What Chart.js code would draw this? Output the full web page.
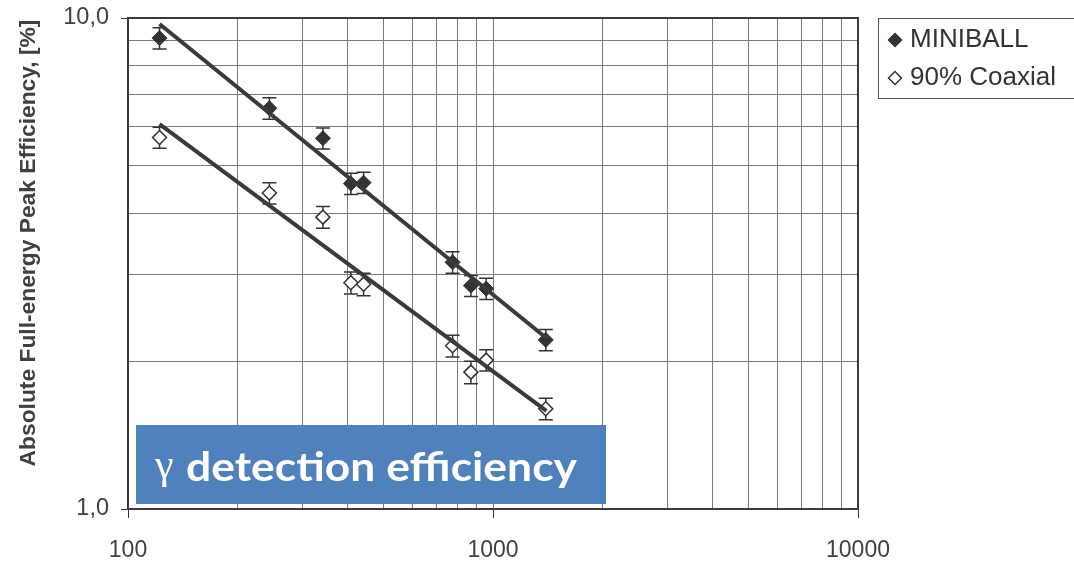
<!DOCTYPE html>
<html>
<head>
<meta charset="utf-8">
<script src="https://cdn.jsdelivr.net/npm/chart.js@4.4.1/dist/chart.umd.min.js"></script>
<style>
  body { margin: 0; background: #fff; }
  #wrap { width: 1074px; height: 562px; }
</style>
</head>
<body>
<div id="wrap"><canvas id="myChart" width="1074" height="562"></canvas></div>
<script>
// gamma energies [keV]
const energies = [122, 244, 342, 408, 442, 775, 870, 958, 1395];
const miniball = [9.1, 6.55, 5.69, 4.6, 4.62, 3.18, 2.85, 2.81, 2.21];
const miniballErr = [0.45, 0.33, 0.28, 0.23, 0.23, 0.16, 0.14, 0.14, 0.11];
const coaxial = [5.71, 4.4, 3.93, 2.89, 2.87, 2.15, 1.9, 2.01, 1.6];
const coaxialErr = [0.28, 0.22, 0.2, 0.15, 0.15, 0.11, 0.1, 0.1, 0.08];

// fitted power-law lines, end points
const fitX = [122, 1400];
const miniballFit = [9.72, 2.23];
const coaxialFit = [6.08, 1.585];

const xGrid = [100, 200, 300, 400, 500, 600, 700, 800, 900, 1000, 2000, 3000, 4000, 5000, 6000, 7000, 8000, 9000, 10000];
const yGrid = [1, 2, 3, 4, 5, 6, 7, 8, 9, 10];
const xLabelValues = [100, 1000, 10000];
const xLabels = ["100", "1000", "10000"];
const yLabelValues = [1, 10];
const yLabels = ["1,0", "10,0"];

const yTitle = "Absolute Full-energy Peak Efficiency, [%]";
const bannerText = "detection efficiency";

const INK = "#333333";
const FONT = "'Liberation Sans', Arial, sans-serif";

function diamond(ctx, x, y, r, fill, stroke, lw) {
  ctx.beginPath();
  ctx.moveTo(x, y - r);
  ctx.lineTo(x + r, y);
  ctx.lineTo(x, y + r);
  ctx.lineTo(x - r, y);
  ctx.closePath();
  ctx.fillStyle = fill;
  ctx.fill();
  ctx.lineWidth = lw;
  ctx.strokeStyle = stroke;
  ctx.stroke();
}

const errorBars = {
  id: "errorBars",
  beforeDatasetsDraw(chart) {
    const { ctx, scales } = chart;
    ctx.save();
    ctx.strokeStyle = INK;
    ctx.lineWidth = 1.5;
    chart.data.datasets.forEach((ds) => {
      if (!ds.errors) return;
      ds.data.forEach((p, i) => {
        const x = scales.x.getPixelForValue(p.x);
        const yTop = scales.y.getPixelForValue(p.y + ds.errors[i]);
        const yBot = scales.y.getPixelForValue(p.y - ds.errors[i]);
        ctx.beginPath();
        ctx.moveTo(x, yTop);
        ctx.lineTo(x, yBot);
        ctx.moveTo(x - 7, yTop);
        ctx.lineTo(x + 7, yTop);
        ctx.moveTo(x - 7, yBot);
        ctx.lineTo(x + 7, yBot);
        ctx.stroke();
      });
    });
    ctx.restore();
  },
};

const extras = {
  id: "extras",
  afterDraw(chart) {
    const { ctx, chartArea } = chart;
    ctx.save();

    // frame
    ctx.strokeStyle = "#3a3a3a";
    ctx.lineWidth = 2;
    ctx.strokeRect(chartArea.left, chartArea.top, chartArea.right - chartArea.left, chartArea.bottom - chartArea.top);

    // y title
    ctx.save();
    ctx.translate(29, 243);
    ctx.rotate(-Math.PI / 2);
    ctx.font = "bold 22.8px " + FONT;
    ctx.fillStyle = "#404040";
    ctx.textAlign = "center";
    ctx.textBaseline = "middle";
    ctx.fillText(yTitle, 0, 0);
    ctx.restore();

    // legend
    ctx.strokeStyle = "#555";
    ctx.lineWidth = 1;
    ctx.strokeRect(878.5, 18.5, 220, 80);
    ctx.font = "26px " + FONT;
    ctx.textBaseline = "middle";
    ctx.textAlign = "left";
    let ly = 40;
    chart.data.datasets.forEach((ds) => {
      if (!ds.errors) return;
      diamond(ctx, 895, ly, 6.5, ds.pointBackgroundColor, ds.pointBorderColor, 1.5);
      ctx.fillStyle = INK;
      ctx.fillText(ds.label, 910, ly);
      ly += 38;
    });

    // banner
    ctx.fillStyle = "#4f81bd";
    ctx.fillRect(136, 425, 470, 79);
    ctx.fillStyle = "#fff";
    ctx.textBaseline = "alphabetic";
    ctx.font = "42px 'Liberation Serif', serif";
    ctx.fillText("γ", 155, 478);
    ctx.font = "bold 40px Lato, sans-serif";
    const w = ctx.measureText(bannerText).width;
    ctx.save();
    ctx.translate(186, 481);
    ctx.scale(391 / w, 1);
    ctx.fillText(bannerText, 0, 0);
    ctx.restore();

    ctx.restore();
  },
};

const myChart = new Chart(document.getElementById("myChart").getContext("2d"), {
  type: "scatter",
  data: {
    datasets: [
      {
        type: "line",
        label: "MINIBALL fit",
        data: fitX.map((x, i) => ({ x, y: miniballFit[i] })),
        borderColor: "#3a3a3a",
        borderWidth: 4,
        pointRadius: 0,
        order: 0,
      },
      {
        type: "line",
        label: "Coaxial fit",
        data: fitX.map((x, i) => ({ x, y: coaxialFit[i] })),
        borderColor: "#3a3a3a",
        borderWidth: 4,
        pointRadius: 0,
        order: 0,
      },
      {
        label: "MINIBALL",
        data: energies.map((x, i) => ({ x, y: miniball[i] })),
        errors: miniballErr,
        pointStyle: "rectRot",
        pointRadius: 7.5,
        pointBackgroundColor: "#333333",
        pointBorderColor: "#333333",
        pointBorderWidth: 1,
        order: 1,
      },
      {
        label: "90% Coaxial",
        data: energies.map((x, i) => ({ x, y: coaxial[i] })),
        errors: coaxialErr,
        pointStyle: "rectRot",
        pointRadius: 7,
        pointBackgroundColor: "#ffffff",
        pointBorderColor: "#333333",
        pointBorderWidth: 1.5,
        order: 1,
      },
    ],
  },
  options: {
    responsive: false,
    animation: false,
    layout: { padding: { left: 0, top: 18, right: 216, bottom: 0 } },
    plugins: { legend: { display: false }, tooltip: { enabled: false } },
    scales: {
      x: {
        type: "logarithmic",
        min: 100,
        max: 10000,
        afterBuildTicks: (scale) => {
          scale.ticks = xGrid.map((v) => ({ value: v }));
        },
        afterFit: (scale) => {
          scale.height = 53;
          scale.paddingLeft = 0;
          scale.paddingRight = 0;
        },
        border: { color: "#3a3a3a", width: 2 },
        grid: {
          color: "#7a7a7a",
          lineWidth: 1,
          tickLength: 9,
          tickColor: (c) => (xLabelValues.includes(c.tick.value) ? "#3a3a3a" : "transparent"),
        },
        ticks: {
          autoSkip: false,
          maxRotation: 0,
          padding: 19,
          color: "#404040",
          font: { size: 23, family: FONT },
          callback: (v) => {
            const i = xLabelValues.indexOf(v);
            return i >= 0 ? xLabels[i] : "";
          },
        },
      },
      y: {
        type: "logarithmic",
        min: 1,
        max: 10,
        afterBuildTicks: (scale) => {
          scale.ticks = yGrid.map((v) => ({ value: v }));
        },
        afterFit: (scale) => {
          scale.width = 128;
          scale.paddingTop = 0;
          scale.paddingBottom = 0;
        },
        border: { color: "#3a3a3a", width: 2 },
        grid: {
          color: "#7a7a7a",
          lineWidth: 1,
          tickLength: 7,
          tickColor: (c) => (yLabelValues.includes(c.tick.value) ? "#3a3a3a" : "transparent"),
        },
        ticks: {
          autoSkip: false,
          padding: 12,
          color: "#404040",
          font: { size: 23.5, family: FONT },
          callback: (v) => {
            const i = yLabelValues.indexOf(v);
            return i >= 0 ? yLabels[i] : "";
          },
        },
      },
    },
  },
  plugins: [errorBars, extras],
});
</script>
</body>
</html>
